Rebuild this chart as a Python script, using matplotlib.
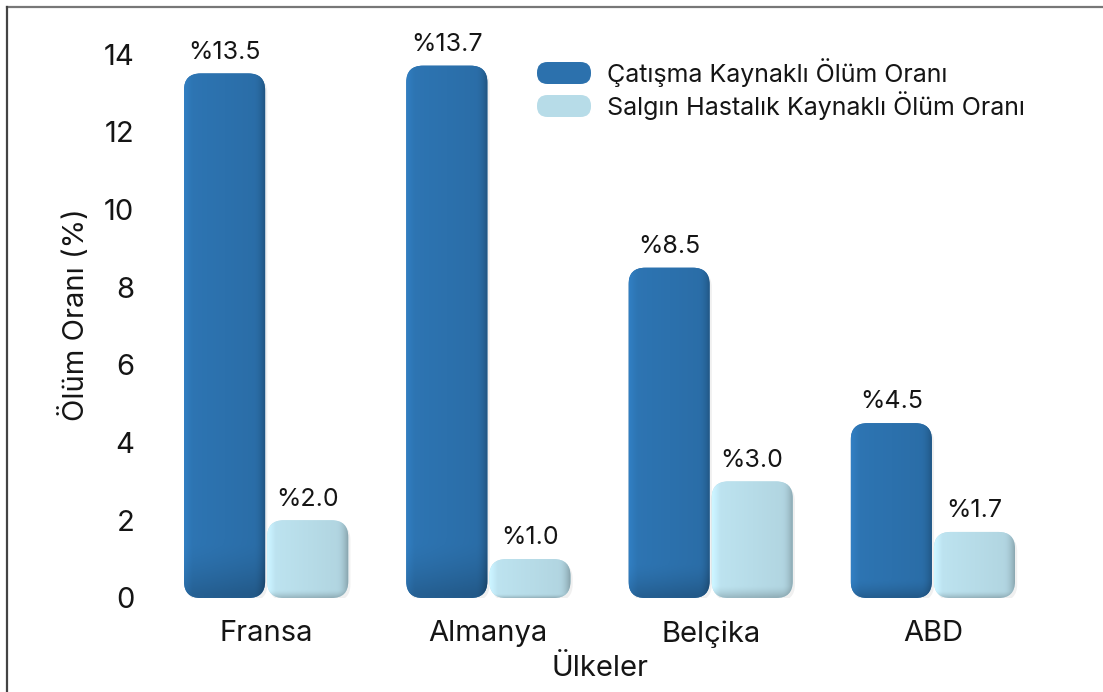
import numpy as np
import matplotlib
matplotlib.use("Agg")
import matplotlib.pyplot as plt
from matplotlib.patches import FancyBboxPatch
from matplotlib.lines import Line2D
from matplotlib.colors import to_rgb

countries = ["Fransa", "Almanya", "Belçika", "ABD"]
conflict = [13.5, 13.7, 8.5, 4.5]
epidemic = [2.0, 1.0, 3.0, 1.7]
conflict_labels = ["%13.5", "%13.7", "%8.5", "%4.5"]
epidemic_labels = ["%2.0", "%1.0", "%3.0", "%1.7"]
series_names = ["Çatışma Kaynaklı Ölüm Oranı", "Salgın Hastalık Kaynaklı Ölüm Oranı"]
yticks = [0, 2, 4, 6, 8, 10, 12, 14]

DARK = "#2c71ad"
LIGHT = "#b7dce8"
TXT = "#151515"

plt.rcParams['font.family'] = ['Inter', 'DejaVu Sans']

W, H = 1103, 692
fig = plt.figure(figsize=(W / 100, H / 100), dpi=100)
fig.patch.set_facecolor("white")

ax = fig.add_axes([155 / W, (H - 598) / H, 889 / W, 567.3 / H])
ax.set_xlim(-0.5, 3.5)
ax.set_ylim(0, 14.6)
for s in ax.spines.values():
    s.set_visible(False)
ax.tick_params(length=0, labelsize=21, colors=TXT)
ax.set_yticks(yticks)
ax.set_xticks(range(len(countries)))
ax.set_xticklabels(countries)
ax.tick_params(axis="x", pad=16)
ax.tick_params(axis="y", pad=15)
ax.set_ylabel("Ölüm Oranı (%)", fontsize=21, labelpad=10, color=TXT)
ax.set_xlabel("Ülkeler", fontsize=21, labelpad=5, color=TXT)

x = np.arange(len(countries))
bw = 0.365
gap = 0.009


def shaded(base, h_px=64, w_px=64):
    c = np.array(to_rgb(base))
    xs = np.linspace(0, 1, w_px)
    ys = np.linspace(0, 1, h_px)
    X, Y = np.meshgrid(xs, ys)
    f = 1.0 + 0.08 * (0.5 - X)
    f -= 0.22 * np.clip((X - 0.85) / 0.15, 0, 1) ** 2
    f += 0.08 * np.clip((0.10 - X) / 0.10, 0, 1)
    f -= 0.18 * np.clip((0.10 - Y) / 0.10, 0, 1) ** 1.5
    img = np.clip(c[None, None, :] * f[..., None], 0, 1)
    return img


def rounded_bars(xpos, heights, color):
    bars = ax.bar(xpos, heights, width=bw, color="none", edgecolor="none")
    r = 0.075
    aspect = 222.25 / 38.86
    for b in bars:
        x0, y0 = b.get_x(), b.get_y()
        w, h = b.get_width(), b.get_height()
        sh = FancyBboxPatch((x0 + 0.01, y0 - 0.08), w, h,
                            boxstyle=f"round,pad=0,rounding_size={r}",
                            mutation_aspect=aspect, facecolor="#000000",
                            alpha=0.06, edgecolor="none", zorder=1)
        ax.add_patch(sh)
        p = FancyBboxPatch((x0, y0), w, h,
                           boxstyle=f"round,pad=0,rounding_size={r}",
                           mutation_aspect=aspect, facecolor=color,
                           edgecolor="none", zorder=2)
        ax.add_patch(p)
        im = ax.imshow(shaded(color), extent=(x0, x0 + w, y0, y0 + h),
                       origin="lower", aspect="auto", zorder=3,
                       interpolation="bilinear")
        im.set_clip_path(p)
    return bars


b1 = rounded_bars(x - bw / 2 - gap / 2, conflict, DARK)
b2 = rounded_bars(x + bw / 2 + gap / 2, epidemic, LIGHT)
ax.set_xlim(-0.5, 3.5)
ax.set_ylim(0, 14.6)

for bars, labels in ((b1, conflict_labels), (b2, epidemic_labels)):
    for bar, lab in zip(bars, labels):
        ax.text(bar.get_x() + bar.get_width() / 2, bar.get_height() + 0.25, lab,
                ha="center", va="bottom", fontsize=18, color=TXT, zorder=5)

# legend with pill handles
leg_items = [(DARK, series_names[0], 73), (LIGHT, series_names[1], 106)]
for col, name, ypx in leg_items:
    pill = FancyBboxPatch((537 / W, 1 - (ypx + 11) / H), 54 / W, 22 / H,
                          boxstyle="round,pad=0,rounding_size=0.0095",
                          mutation_aspect=W / H,
                          transform=fig.transFigure, facecolor=col,
                          edgecolor="none", zorder=5)
    fig.patches.append(pill)
    fig.text(607 / W, 1 - ypx / H, name, fontsize=18, va="center",
             ha="left", color=TXT)

# frame lines (top and left)
fig.add_artist(Line2D([7 / W, 1.0], [1 - 7 / H, 1 - 7 / H],
                      transform=fig.transFigure, color="#777777", lw=1.6))
fig.add_artist(Line2D([7 / W, 7 / W], [0, 1 - 7 / H],
                      transform=fig.transFigure, color="#444444", lw=1.6))

fig.savefig("out.png", dpi=100)
